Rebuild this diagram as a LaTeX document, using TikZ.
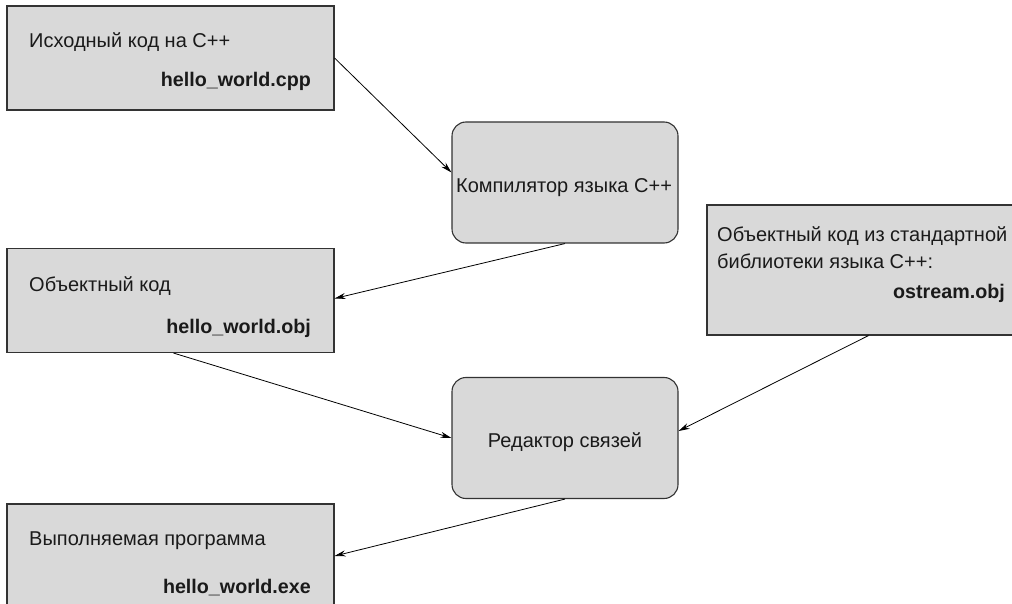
\documentclass[tikz,border=0pt]{standalone}
\usepackage{fontspec}
\setmainfont{Liberation Sans}
\usetikzlibrary{arrows.meta}
\definecolor{boxgray}{HTML}{D9D9D9}
\definecolor{edgegray}{HTML}{333333}
\definecolor{txt}{HTML}{1A1A1A}
\begin{document}
\begin{tikzpicture}[x=1pt,y=-1pt,
  filebox/.style={draw=edgegray,fill=boxgray,line width=1.1pt,minimum width=327pt,minimum height=104pt,inner sep=0pt},
  procbox/.style={draw=edgegray,fill=boxgray,line width=1.1pt,rounded corners=14pt,minimum width=226pt,minimum height=121pt,inner sep=0pt},
  lbl/.style={inner sep=0pt,text=txt,font=\fontsize{20}{27}\selectfont},
  lblL/.style={lbl,anchor=base west},
  lblR/.style={lbl,anchor=base east,font=\fontsize{19.7}{27}\selectfont\bfseries},
  lblC/.style={lbl,anchor=base},
  conn/.style={draw=black,line width=0.8pt,-{Stealth[length=11pt,width=6pt]}}]
\useasboundingbox (0,0) rectangle (1012,604);
\clip (0,0) rectangle (1012,604);
\fill[white] (0,0) rectangle (1012,604);
% boxes
\node[filebox] (src) at (170.5,58) {};
\node[procbox] (comp) at (565,182.5) {};
\node[filebox] (obj) at (170.5,300.5) {};
\node[filebox,minimum height=130pt] (lib) at (870.5,270) {};
\node[procbox] (link) at (565,438) {};
\node[filebox] (exe) at (170.5,556) {};
% texts
\node[lblL] (t1) at (29,48) {Исходный код на С++};
\node[lblR] (t1b) at (311,87) {hello\_world.cpp};
\node[lblC] (t2) at (564,193) {Компилятор языка С++};
\node[lblL] (t3) at (29,291) {Объектный код};
\node[lblR] (t3b) at (311,333) {hello\_world.obj};
\node[lblL] (t4) at (717,242) {Объектный код из стандартной};
\node[lblL] (t4a) at (717,268) {библиотеки языка С++:};
\node[lblR] (t4b) at (1005,298) {ostream.obj};
\node[lblC] (t5) at (565,447) {Редактор связей};
\node[lblL] (t6) at (29,545) {Выполняемая программа};
\node[lblR] (t6b) at (311,593) {hello\_world.exe};
% connectors
\draw[conn] (src.east) -- ([yshift=10pt]comp.west);
\draw[conn] (comp.south) -- ([yshift=2pt]obj.east);
\draw[conn] ([xshift=3pt]obj.south) -- (link.west);
\draw[conn] ([xshift=-2pt]lib.south) -- ([yshift=7pt]link.east);
\draw[conn] (link.south) -- (exe.east);
\end{tikzpicture}
\end{document}
